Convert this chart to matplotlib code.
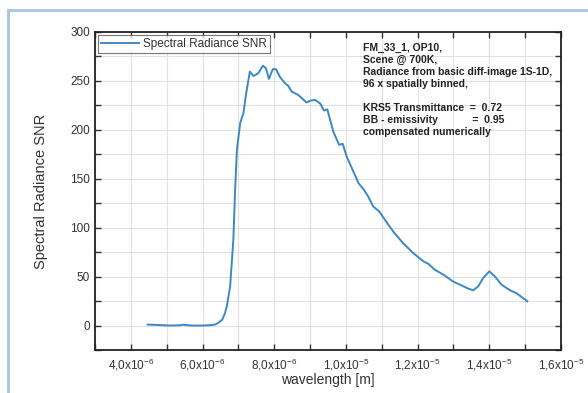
import matplotlib.pyplot as plt
from matplotlib.patches import Rectangle
from matplotlib.ticker import MultipleLocator, FuncFormatter

plt.rcParams['font.family'] = ['Liberation Sans', 'DejaVu Sans']
plt.rcParams['mathtext.default'] = 'regular'

# -------------------------
# dados
# -------------------------
wavelength_um = [4.47, 4.8, 5.1, 5.35, 5.45, 5.7, 6.0, 6.2, 6.35, 6.45, 6.55, 6.62,
                 6.68, 6.77, 6.86, 6.91, 6.96, 7.05, 7.14, 7.22, 7.32, 7.42, 7.56,
                 7.68, 7.77, 7.85, 7.96, 8.05, 8.16, 8.30, 8.39, 8.49, 8.67, 8.90,
                 9.02, 9.14, 9.28, 9.39, 9.48, 9.65, 9.81, 9.91, 10.02, 10.20, 10.35,
                 10.50, 10.62, 10.76, 10.93, 11.09, 11.32, 11.60, 11.88, 12.16, 12.30,
                 12.48, 12.72, 12.99, 13.18, 13.41, 13.55, 13.69, 13.83, 14.00, 14.16,
                 14.34, 14.58, 14.76, 15.06]
snr = [1, 0.5, 0, 0.2, 0.8, 0, 0, 0.3, 1, 3, 6, 12,
       20, 40, 88, 140, 180, 207, 217, 238, 259.5, 255, 258,
       265.6, 263, 252, 262, 262, 254, 247.6, 245, 239, 235.7, 228,
       230, 230.6, 227, 219.7, 221, 198, 184.7, 185.7, 172.8, 158, 145.6,
       138.8, 132, 121.7, 116.6, 108, 96, 84, 74, 65.6, 63,
       57, 52, 45, 41.8, 37.8, 36, 40, 48.6, 55.4, 50,
       41.8, 36, 33, 24.8]

wavelength = [w * 1e-6 for w in wavelength_um]

info = ("FM_33_1, OP10,\n"
        "Scene @ 700K,\n"
        "Radiance from basic diff-image 1S-1D,\n"
        "96 x spatially binned,\n"
        "\n"
        "KRS5 Transmittance  =  0.72\n"
        "BB - emissivity            =  0.95\n"
        "compensated numerically")


def fmt_x(v, pos):
    exp = int(f"{v:e}".split("e")[1])
    mant = v / 10 ** exp
    return f"{mant:.1f}".replace(".", ",") + "x10$^{" + str(exp) + "}$"


fig = plt.figure(figsize=(5.88, 3.93), dpi=100)
ax = fig.add_axes([95 / 588, 1 - 350 / 393, (561 - 95) / 588, (350 - 32) / 393])

# moldura azul clara
fig.patches.append(Rectangle((8 / 588, -0.1), 1.2, 1 - 10 / 393 + 0.1,
                             transform=fig.transFigure, fill=False,
                             edgecolor="#a8c3e6", linewidth=2))

ax.plot(wavelength, snr, color="#3d88c3", linewidth=1.4, label="Spectral Radiance SNR")

ax.set_xlim(3e-6, 1.6e-5)
ax.set_ylim(-25, 300)
ax.xaxis.set_major_locator(MultipleLocator(2e-6))
ax.xaxis.set_minor_locator(MultipleLocator(1e-6))
ax.yaxis.set_major_locator(MultipleLocator(50))
ax.yaxis.set_minor_locator(MultipleLocator(25))
ax.xaxis.set_major_formatter(FuncFormatter(fmt_x))

ax.grid(True, which="both", color="#e2e2e2", linewidth=0.8)
ax.set_axisbelow(True)
ax.tick_params(which="both", direction="in", top=True, right=True,
               length=4, width=1, colors="#333333", labelsize=8.5)
ax.tick_params(axis="x", pad=5)
for s in ax.spines.values():
    s.set_color("#222222")
    s.set_linewidth(1.3)

ax.set_xlabel("wavelength [m]", fontsize=10, color="#333333", labelpad=0)
ax.set_ylabel("Spectral Radiance SNR", fontsize=10.5, color="#333333", labelpad=16)

leg = ax.legend(loc="upper left", fontsize=8.5, frameon=True, fancybox=False,
                borderpad=0.25, handlelength=3.2, borderaxespad=0.25,
                handletextpad=0.4)
leg.get_frame().set_edgecolor("#555555")
leg.get_frame().set_linewidth(0.8)
for t in leg.get_texts():
    t.set_color("#333333")

ax.text(0.575, 0.965, info, transform=ax.transAxes, fontsize=7.5,
        fontweight="bold", va="top", ha="left", color="#222222", linespacing=1.25)

fig.savefig("out.png", dpi=100)
